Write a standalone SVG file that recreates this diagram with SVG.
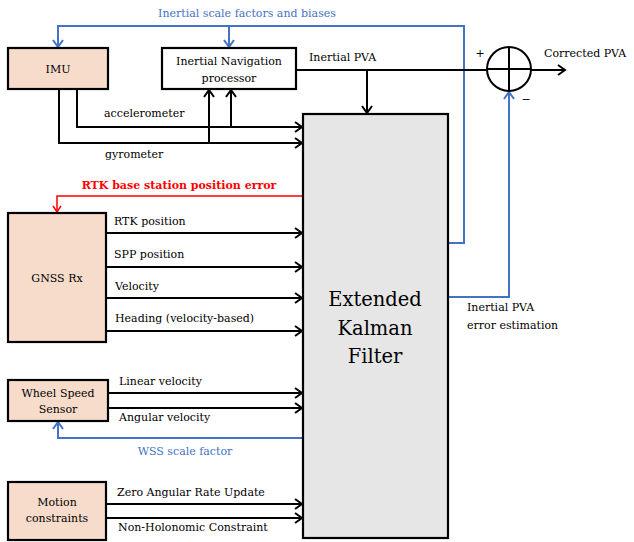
<svg xmlns="http://www.w3.org/2000/svg" width="634" height="542" viewBox="0 0 634 542">
<defs>
<style>
text{font-family:'DejaVu Serif',serif}
.box{fill:#f8dccb;stroke:#000;stroke-width:2.2}
.wbox{fill:#fff;stroke:#000;stroke-width:2.2}
.ekf{fill:#e6e6e6;stroke:#000;stroke-width:2.2}
.t{font-size:11px;fill:#000}
.tb{font-size:11px;fill:#4472c4}
.tr{font-size:11px;fill:#ff0000;font-weight:bold}
.big{font-size:19.5px;fill:#000}
.k{fill:none;stroke:#000;stroke-width:2}
.b{fill:none;stroke:#4472c4;stroke-width:2}
.r{fill:none;stroke:#ff0000;stroke-width:1.5}
</style>
<marker id="ak" markerWidth="12" markerHeight="12" refX="9" refY="6" orient="auto" markerUnits="userSpaceOnUse"><path d="M2,1 L9,6 L2,11" fill="none" stroke="#000" stroke-width="2"/></marker>
<marker id="ab" markerWidth="12" markerHeight="12" refX="9" refY="6" orient="auto" markerUnits="userSpaceOnUse"><path d="M2,1 L9,6 L2,11" fill="none" stroke="#4472c4" stroke-width="2"/></marker>
<marker id="ar" markerWidth="12" markerHeight="12" refX="9" refY="6" orient="auto" markerUnits="userSpaceOnUse"><path d="M3,2 L9,6 L3,10" fill="none" stroke="#ff0000" stroke-width="1.5"/></marker>
</defs>

<g id="connectors">
<path class="b" d="M448,243 H464 V26 H58 V47" marker-end="url(#ab)"/>
<path class="b" d="M229,26 V47" marker-end="url(#ab)"/>
<path class="k" d="M296,70 H565" marker-end="url(#ak)"/>
<path class="k" d="M367,70 V113" marker-end="url(#ak)"/>
<path class="b" d="M448,297 H509 V92" marker-end="url(#ab)"/>
<path class="k" d="M77,89 V127 H302" marker-end="url(#ak)"/>
<path class="k" d="M59,89 V143 H302" marker-end="url(#ak)"/>
<path class="k" d="M231,127 V90" marker-end="url(#ak)"/>
<path class="k" d="M209,143 V90" marker-end="url(#ak)"/>
<path class="r" d="M313,196 H57 V212" marker-end="url(#ar)"/>
<path class="k" d="M106,233 H302" marker-end="url(#ak)"/>
<path class="k" d="M106,267 H302" marker-end="url(#ak)"/>
<path class="k" d="M106,298 H302" marker-end="url(#ak)"/>
<path class="k" d="M106,331 H302" marker-end="url(#ak)"/>
<path class="k" d="M108,393 H302" marker-end="url(#ak)"/>
<path class="k" d="M108,408 H302" marker-end="url(#ak)"/>
<path class="b" d="M310,438 H58 V422" marker-end="url(#ab)"/>
<path class="k" d="M106,504 H302" marker-end="url(#ak)"/>
<path class="k" d="M106,518 H302" marker-end="url(#ak)"/>
</g>

<g id="imu"><rect class="box" x="8" y="48" width="100" height="41"/><text class="t" x="58" y="73" text-anchor="middle">IMU</text></g>
<g id="ins"><rect class="wbox" x="162" y="48" width="134" height="41"/><text class="t" x="229" y="65" text-anchor="middle">Inertial Navigation</text><text class="t" x="229" y="82" text-anchor="middle">processor</text></g>
<g id="ekf"><rect class="ekf" x="303" y="114" width="145" height="424"/><text class="big" x="375" y="306" text-anchor="middle">Extended</text><text class="big" x="375" y="335" text-anchor="middle">Kalman</text><text class="big" x="375" y="363" text-anchor="middle">Filter</text></g>
<g id="sum"><circle cx="509" cy="69" r="22" fill="#fff" stroke="#000" stroke-width="2"/><path class="k" d="M487,69 H531 M509,47 V91"/><text class="t" x="480" y="57" text-anchor="middle">+</text><text class="t" x="526" y="103" text-anchor="middle">−</text></g>
<g id="gnss"><rect class="box" x="8" y="213" width="98" height="129"/><text class="t" x="57" y="282" text-anchor="middle">GNSS Rx</text></g>
<g id="wss"><rect class="box" x="8" y="380" width="100" height="41"/><text class="t" x="58" y="397" text-anchor="middle">Wheel Speed</text><text class="t" x="58" y="413" text-anchor="middle">Sensor</text></g>
<g id="motion"><rect class="box" x="8" y="482" width="98" height="58"/><text class="t" x="57" y="506" text-anchor="middle">Motion</text><text class="t" x="57" y="522" text-anchor="middle">constraints</text></g>

<g id="labels">
<text class="tb" x="247" y="17" text-anchor="middle">Inertial scale factors and biases</text>
<text class="t" x="309" y="61">Inertial PVA</text>
<text class="t" x="544" y="57">Corrected PVA</text>
<text class="t" x="104" y="117">accelerometer</text>
<text class="t" x="105" y="158">gyrometer</text>
<text class="tr" x="179" y="189" text-anchor="middle">RTK base station position error</text>
<text class="t" x="114" y="225">RTK position</text>
<text class="t" x="114" y="258">SPP position</text>
<text class="t" x="115" y="290">Velocity</text>
<text class="t" x="115" y="322">Heading (velocity-based)</text>
<text class="t" x="467" y="311">Inertial PVA</text>
<text class="t" x="467" y="329">error estimation</text>
<text class="t" x="119" y="385">Linear velocity</text>
<text class="t" x="119" y="421">Angular velocity</text>
<text class="tb" x="185" y="455" text-anchor="middle">WSS scale factor</text>
<text class="t" x="117" y="496">Zero Angular Rate Update</text>
<text class="t" x="118" y="531">Non-Holonomic Constraint</text>
</g>
</svg>
